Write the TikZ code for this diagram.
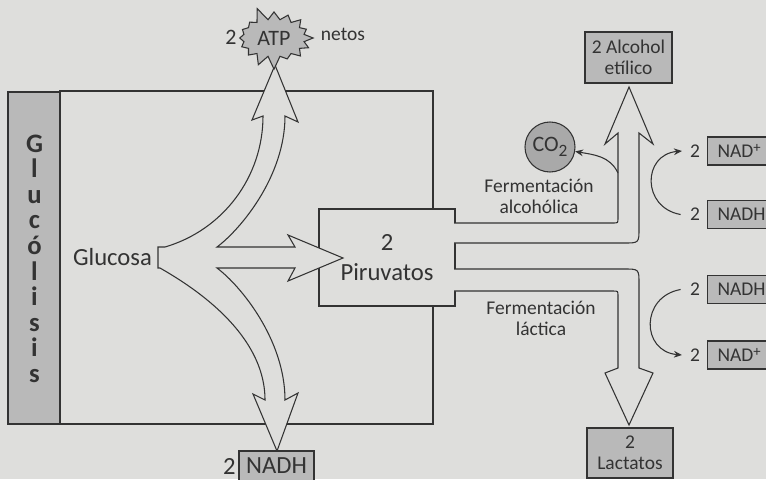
\documentclass[tikz,border=0pt]{standalone}
\usepackage{fontspec}
\setmainfont{Carlito}
\usetikzlibrary{arrows.meta,positioning,shapes.symbols}

\begin{document}
\begin{tikzpicture}[
    x={(0.75pt,0pt)}, y={(0pt,-0.75pt)},
    every node/.style={font=\fontsize{14.6}{16}\selectfont, text=ink},
    big/.style={font=\fontsize{18.5}{23}\selectfont},
    glyph/.style={font=\fontsize{20}{20}\selectfont\bfseries},
    outline/.style={draw=ink, line width=0.8pt},
    blockarrow/.style={outline, fill=bg, line join=miter},
    graybox/.style={outline, fill=boxgray, inner sep=0pt},
    sidebox/.style={graybox, anchor=west, minimum height=21pt, text width=42pt,
      inner xsep=7.5pt, align=left, text height=9.4pt, text depth=0pt},
    numlabel/.style={inner sep=1pt},
    smallarrow/.style={draw=ink, line width=0.8pt, -{Stealth[length=6pt, width=5pt]}},
  ]
    \definecolor{bg}{HTML}{DEDEDC}
    \definecolor{ink}{HTML}{333333}
    \definecolor{boxgray}{HTML}{B9B9B9}
    \definecolor{co2gray}{HTML}{A9A9A9}
    \newcommand{\nadplus}{NAD\raisebox{0.55ex}{\fontsize{11}{11}\selectfont +}}

    \useasboundingbox (0,0) rectangle (766,479);
    \clip (0,0) rectangle (766,479);
    \fill[bg] (0,0) rectangle (766,479);

    % ============ glucolisis ============
    \draw[graybox] (8,92) rectangle (60,424);
    \foreach \ch [count=\k] in {G,l,u,c,ó,l,i,s,i,s}
      \node[glyph, anchor=base] (gluc\k) at (34.5,{152+25.6*(\k-1)}) {\ch};
    \draw[outline] (60,91) rectangle (433,424);
    \node[big, anchor=base] (glucosa) at (112.5,265) {Glucosa};

    \node[outline, fill=bg, big, minimum width=102pt, minimum height=72.75pt,
      align=center] (piruvatos) at (387,257.5) {2\\Piruvatos};

    % ============ fermentation channels ============
    \draw[blockarrow] (454,223) -- (613,223) .. controls (618,223) .. (618,218)
      -- (618,133) -- (605,144) -- (629,87) -- (653,144) -- (639,133)
      -- (639,228) .. controls (639,243) .. (624,243) -- (454,243);
    \draw[blockarrow] (454,269) -- (624,269) .. controls (639,269) .. (639,284)
      -- (639,368) -- (653,373) -- (629,425) -- (605,373) -- (618,368)
      -- (618,296) .. controls (618,291) .. (613,291) -- (454,291);

    % ============ glucose split ============
    \draw[blockarrow] (158,247) -- (165,247)
      .. controls (223,230) and (263,177) .. (263,116)
      -- (252,120) -- (275,65) -- (298,122) -- (285,116)
      .. controls (285,176) and (241,229) .. (217,247)
      -- (295,247) -- (288,235) -- (343,258) -- (288,281) -- (295,268) -- (217,268)
      .. controls (241,286) and (285,340) .. (285,400)
      -- (298,393) -- (277,451) -- (253,394) -- (265,400)
      .. controls (265,330) and (186,283) .. (160,268) -- (158,268) -- cycle;

    % ============ products ============
    \node[starburst, outline, fill=boxgray, starburst points=16,
      starburst point height=10pt, random starburst=25, minimum width=66pt,
      minimum height=48pt, inner sep=0pt, font=\fontsize{16.5}{16}\selectfont]
      (atp) at (274,38) {ATP};
    \node[numlabel, font=\fontsize{16.5}{16}\selectfont] (twoatp) at (231,37) {2};
    \node[anchor=base] (netos) at (343,40.5) {netos};

    \node[graybox, big, minimum width=56.25pt, minimum height=22.5pt,
      text height=11.9pt, text depth=0pt] (nadhglu) at (276.5,466) {NADH};
    \node[numlabel, big, left=1pt of nadhglu] (twonadhglu) {2};

    \node[graybox, minimum width=65.25pt, minimum height=38.25pt, align=center]
      (alcohol) at (628.5,57.5) {2 Alcohol\\etílico};
    \node[graybox, minimum width=64.5pt, minimum height=37.5pt, align=center]
      (lactatos) at (630,453) {2\\Lactatos};

    \node[outline, circle, fill=co2gray, minimum size=37.5pt, inner sep=0pt,
      font=\fontsize{16.5}{16}\selectfont] (co2) at (550,147)
      {CO\raisebox{-0.5ex}{\fontsize{13}{13}\selectfont 2}};
    \coordinate (co2from) at (618,173);
    \draw[smallarrow] (co2from) to[out=115, in=-10] (co2);

    \node[align=center] (fermalc) at (539,196.5) {Fermentación\\alcohólica};
    \node[align=center] (fermlac) at (541,318.5) {Fermentación\\láctica};

    % ============ NAD cycles ============
    \node[sidebox] (nadplusalc) at (707,151) {\nadplus};
    \node[sidebox] (nadhalc) at (707,214.5) {NADH};
    \node[sidebox] (nadhlac) at (707,289.5) {NADH};
    \node[sidebox] (nadpluslac) at (707,355) {\nadplus};
    \foreach \b in {nadplusalc,nadhalc,nadhlac,nadpluslac}
      \node[numlabel, left=4pt of \b] (two\b) {2};

    \draw[smallarrow] ([xshift=-6pt]twonadhalc.west)
      to[out=170, in=185, looseness=1.6] ([xshift=-5pt]twonadplusalc.west);
    \draw[smallarrow] ([xshift=-6pt]twonadhlac.west)
      to[out=190, in=175, looseness=1.6] ([xshift=-5pt]twonadpluslac.west);
  \end{tikzpicture}
\end{document}
